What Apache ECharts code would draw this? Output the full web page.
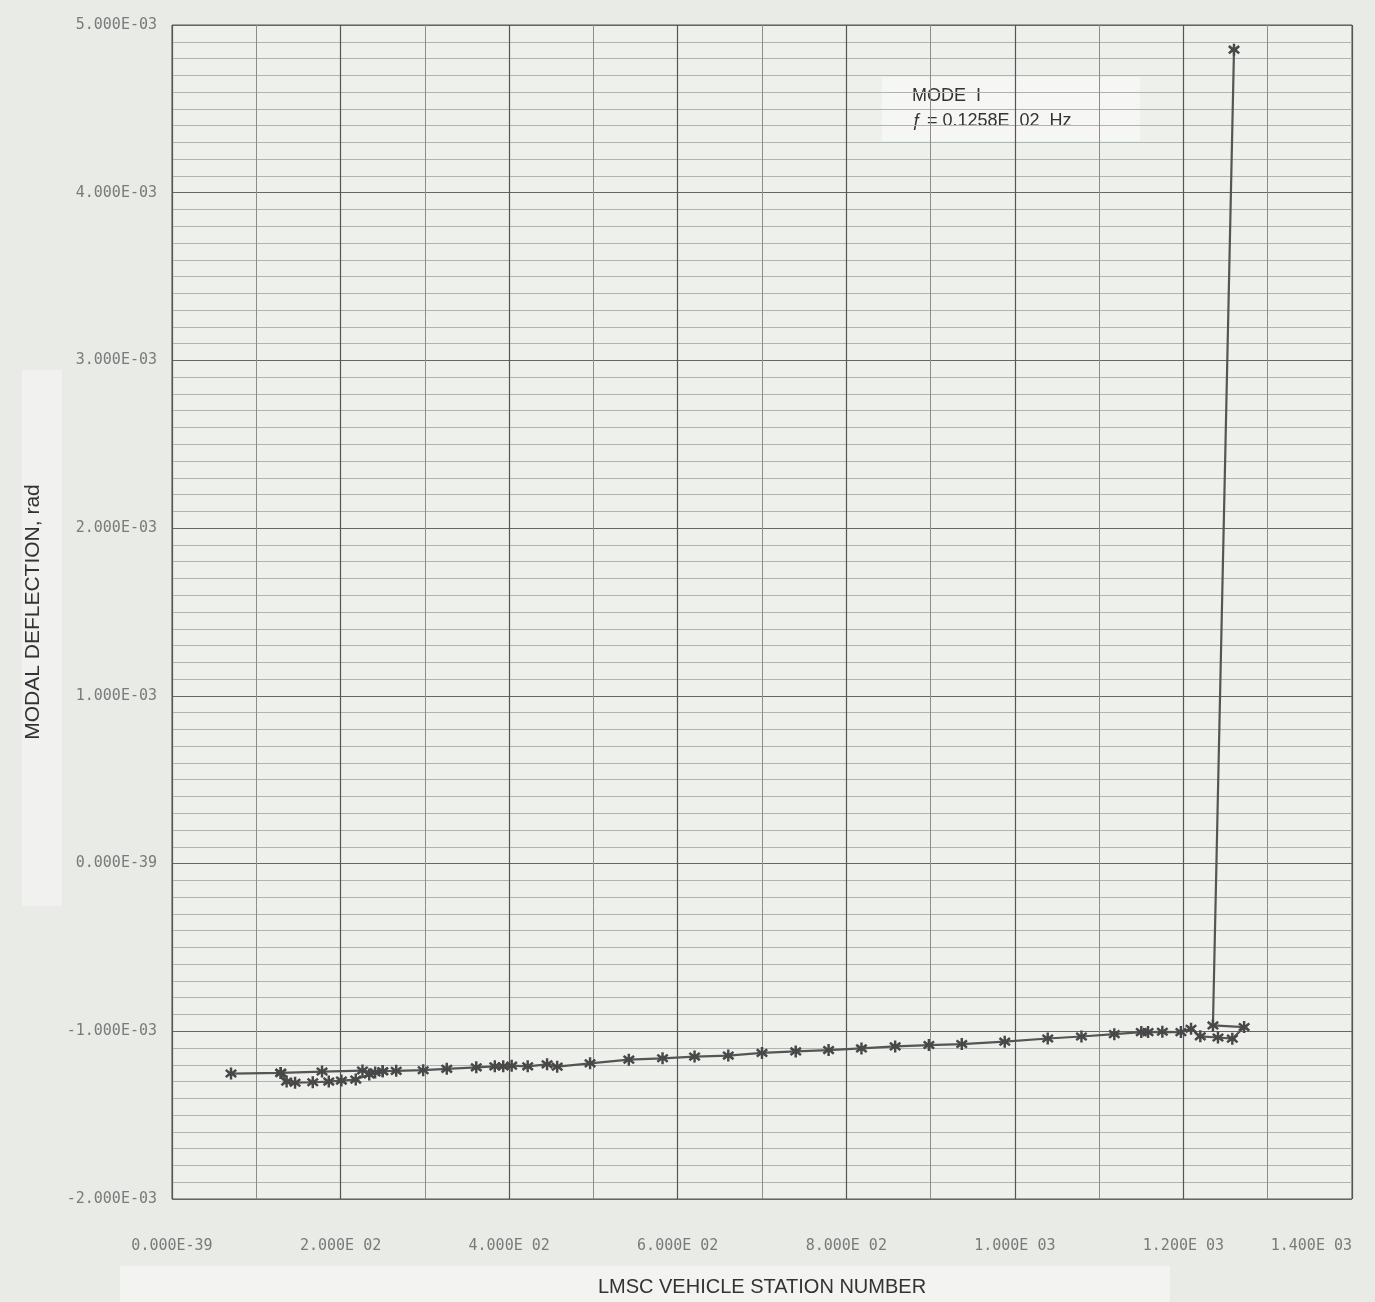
<!DOCTYPE html>
<html lang="en">
<head>
    <meta charset="UTF-8">
    <script src="https://cdn.jsdelivr.net/npm/echarts@6/dist/echarts.min.js"></script>
    <title>Modal Deflection - Mode 1</title>
    <style>
        html, body { margin: 0; padding: 0; background: #e9ebe7; }
        #main { width: 1375px; height: 1302px; }
    </style>
</head>
<body>
    <div id="main"></div>
    <script>
        // station numbers / modal deflection (rad), main path along the vehicle
        var mainStation = [70, 129, 178, 226, 241, 250, 266, 298, 326, 361, 383, 393, 403, 422, 445, 457,
            496, 542, 582, 620, 660, 700, 740, 779, 818, 858, 898, 937, 988, 1039, 1079, 1118,
            1150, 1158, 1175, 1197, 1209, 1220, 1241, 1258, 1272, 1235, 1260];
        var mainDeflection = [-1.252e-3, -1.248e-3, -1.240e-3, -1.234e-3, -1.245e-3, -1.238e-3, -1.236e-3, -1.232e-3,
            -1.224e-3, -1.215e-3, -1.209e-3, -1.209e-3, -1.205e-3, -1.209e-3, -1.197e-3, -1.211e-3,
            -1.191e-3, -1.169e-3, -1.161e-3, -1.151e-3, -1.145e-3, -1.129e-3, -1.120e-3, -1.112e-3,
            -1.102e-3, -1.090e-3, -1.082e-3, -1.076e-3, -1.062e-3, -1.043e-3, -1.031e-3, -1.017e-3,
            -1.005e-3, -1.005e-3, -1.003e-3, -1.005e-3, -0.985e-3, -1.030e-3, -1.037e-3, -1.044e-3,
            -0.975e-3, -0.965e-3, 4.853e-3];
        // lower branch near station 130-250
        var branchStation = [129, 136, 146, 167, 186, 201, 218, 234, 250];
        var branchDeflection = [-1.248e-3, -1.300e-3, -1.307e-3, -1.304e-3, -1.300e-3, -1.294e-3, -1.288e-3, -1.258e-3, -1.238e-3];

        var modeText = ['MODE  I', '\u0192 = 0.1258E  02  Hz'];

        function sciLabel(value) {
            var v = Math.round(value * 1e9) / 1e9;
            if (v === 0) return '0.000E-39';
            var e = Math.floor(Math.log10(Math.abs(v)) + 1e-9);
            var m = v / Math.pow(10, e);
            var es = (e < 0 ? '-' : ' ') + String(Math.abs(e)).padStart(2, '0');
            return m.toFixed(3) + 'E' + es;
        }

        function zipPts(xs, ys) {
            return xs.map(function (x, i) { return [x, ys[i]]; });
        }

        var star = 'path://M4,0 L6,0 L6,3.3 L8.6,1.2 L9.9,2.7 L7.4,5 L9.9,7.3 L8.6,8.8 L6,6.7 L6,10 L4,10 L4,6.7 L1.4,8.8 L0.1,7.3 L2.6,5 L0.1,2.7 L1.4,1.2 L4,3.3 Z';

        var chart = echarts.init(document.getElementById('main'));

        var lineSeries = {
            type: 'line',
            symbol: star,
            symbolSize: 12,
            lineStyle: { color: '#555', width: 2.2 },
            itemStyle: { color: '#484848' },
            animation: false
        };

        var option = {
            backgroundColor: '#e9ebe7',
            grid: {
                left: 172, top: 25, right: 23, bottom: 96,
                show: true, backgroundColor: '#eef0ec', borderColor: '#555', borderWidth: 1
            },
            graphic: [
                { type: 'rect', shape: { x: 22, y: 370, width: 40, height: 536 }, style: { fill: '#f1f2ef' }, z: -1 },
                { type: 'rect', shape: { x: 120, y: 1266, width: 1050, height: 36 }, style: { fill: '#f3f4f1' }, z: -1 },
                {
                    type: 'group', left: 882, top: 77, z: 10,
                    children: [
                        { type: 'rect', shape: { x: 0, y: 0, width: 258, height: 64 }, style: { fill: '#f6f7f4' } },
                        { type: 'text', x: 30, y: 10, style: { text: modeText[0], font: '18px "Liberation Sans", Arial, sans-serif', fill: '#333' } },
                        { type: 'text', x: 30, y: 35, style: { text: modeText[1], font: '18px "Liberation Sans", Arial, sans-serif', fill: '#333' } }
                    ]
                }
            ],
            xAxis: {
                type: 'value',
                min: 0, max: 1400, interval: 200,
                name: 'LMSC VEHICLE STATION NUMBER',
                nameLocation: 'middle', nameGap: 78,
                nameTextStyle: { fontFamily: '"Liberation Sans", Arial, sans-serif', fontSize: 20, color: '#333' },
                axisLine: { show: false },
                axisTick: { show: false },
                axisLabel: {
                    formatter: sciLabel, margin: 40, alignMaxLabel: 'right',
                    fontFamily: '"DejaVu Sans Mono", monospace', fontSize: 15, color: '#7a7a7a'
                },
                splitLine: { show: true, lineStyle: { color: '#555', width: 1.2 } },
                minorTick: { show: false, splitNumber: 2 },
                minorSplitLine: { show: true, lineStyle: { color: '#8c8c8c', width: 1 } }
            },
            yAxis: {
                type: 'value',
                min: -0.002, max: 0.005, interval: 0.001,
                name: 'MODAL DEFLECTION, rad',
                nameLocation: 'middle', nameGap: 128,
                nameTextStyle: { fontFamily: '"Liberation Sans", Arial, sans-serif', fontSize: 21, color: '#333' },
                axisLine: { show: false },
                axisTick: { show: false },
                axisLabel: {
                    formatter: sciLabel, margin: 15,
                    fontFamily: '"DejaVu Sans Mono", monospace', fontSize: 15, color: '#7a7a7a'
                },
                splitLine: { show: true, lineStyle: { color: '#666', width: 1.2 } },
                minorTick: { show: false, splitNumber: 10 },
                minorSplitLine: { show: true, lineStyle: { color: '#a9b6b1', width: 1 } }
            },
            series: [
                Object.assign({}, lineSeries, { name: 'main', data: zipPts(mainStation, mainDeflection) }),
                Object.assign({}, lineSeries, { name: 'branch', data: zipPts(branchStation, branchDeflection) })
            ]
        };

        chart.setOption(option);
    </script>
</body>
</html>
